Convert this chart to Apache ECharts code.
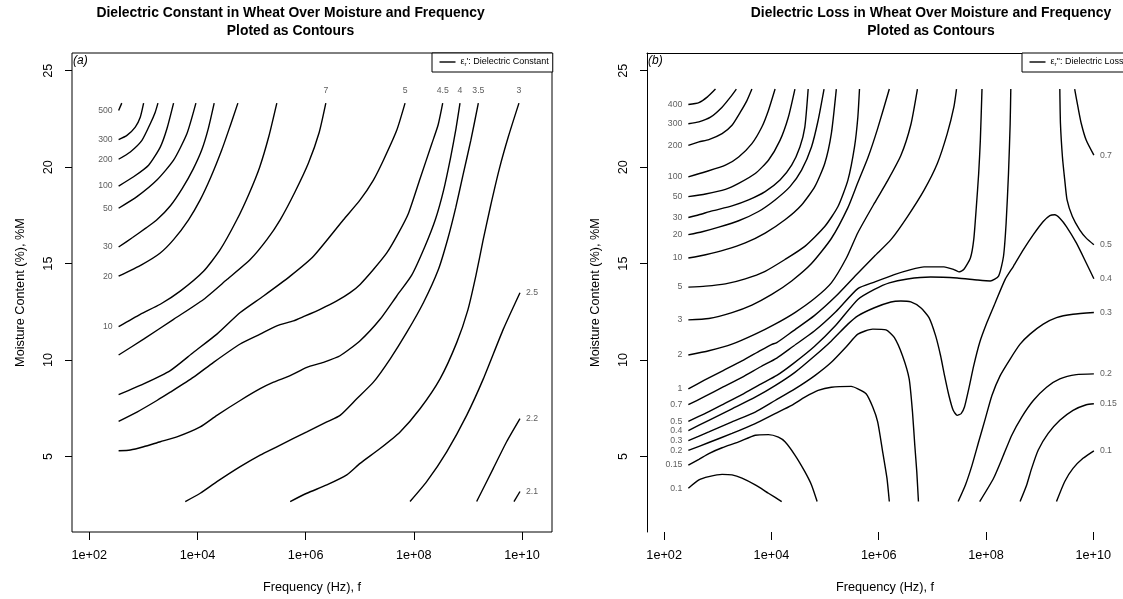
<!DOCTYPE html>
<html>
<head>
<meta charset="utf-8">
<script src="https://cdn.jsdelivr.net/npm/echarts@6/dist/echarts.min.js"></script>
<style>
  html, body { margin: 0; padding: 0; background: #fff; }
  #chart { width: 1123px; height: 599px; }
</style>
</head>
<body>
<div id="chart"></div>
<script>
// Axis ticks: frequency as powers of ten, moisture in percent
const freqTickExponents = [2, 4, 6, 8, 10];
const moistureTicks = [5, 10, 15, 20, 25];

// (a) Dielectric constant contours, each path is [log10 f (Hz), moisture %M]
const constantLevels = [500, 300, 200, 100, 50, 30, 20, 10, 7, 5, 4.5, 4, 3.5, 3, 2.5, 2.2, 2.1];
const constantPaths = [
  [[2.542,22.94],[2.600,23.32]],
  [[2.542,21.43],[2.696,21.65],[2.850,22.08],[2.942,22.59],[3.004,23.32]],
  [[2.542,20.41],[2.758,20.79],[2.973,21.39],[3.127,22.25],[3.219,22.85],[3.269,23.32]],
  [[2.542,19.02],[2.819,19.50],[3.096,20.10],[3.312,21.04],[3.435,21.99],[3.558,23.32]],
  [[2.542,17.87],[2.881,18.47],[3.250,19.33],[3.558,20.36],[3.804,21.73],[3.971,23.32]],
  [[2.542,15.86],[2.800,16.35],[3.050,16.85],[3.250,17.27],[3.500,18.00],[3.720,18.90],[3.920,19.90],[4.080,20.90],[4.200,22.00],[4.309,23.32]],
  [[2.542,14.35],[2.973,14.95],[3.312,15.55],[3.558,16.24],[3.835,17.27],[4.050,18.30],[4.250,19.50],[4.450,20.90],[4.600,22.10],[4.747,23.32]],
  [[2.542,11.73],[2.942,12.37],[3.312,12.89],[3.681,13.57],[4.112,14.60],[4.420,15.72],[4.728,17.27],[4.950,18.60],[5.150,20.00],[5.320,21.60],[5.467,23.32]],
  [[2.542,10.26],[3.004,11.08],[3.558,12.11],[4.112,13.14],[4.544,14.17],[4.975,15.21],[5.283,16.24],[5.529,17.27],[5.800,18.70],[6.050,20.20],[6.250,21.80],[6.373,23.32]],
  [[2.542,8.20],[3.004,8.76],[3.497,9.45],[3.928,10.40],[4.359,11.34],[4.790,12.46],[5.221,13.32],[5.714,14.35],[6.145,15.38],[6.699,17.27],[7.007,18.30],[7.253,19.33],[7.438,20.36],[7.684,21.91],[7.838,23.32]],
  [[2.542,6.82],[2.881,7.30],[3.250,7.90],[3.497,8.33],[3.928,9.11],[4.297,9.88],[4.790,10.83],[5.159,11.34],[5.467,11.77],[5.775,12.03],[5.960,12.25],[6.268,12.63],[6.576,13.06],[6.822,13.49],[7.007,13.92],[7.253,14.69],[7.500,15.55],[7.700,16.50],[7.900,17.60],[8.115,19.40],[8.331,21.20],[8.450,22.20],[8.534,23.32]],
  [[2.542,5.29],[2.758,5.33],[3.004,5.50],[3.312,5.76],[3.620,6.01],[4.051,6.53],[4.359,7.13],[4.790,7.90],[5.159,8.51],[5.406,8.85],[5.714,9.19],[6.022,9.62],[6.330,9.88],[6.637,10.22],[7.007,11.00],[7.376,12.11],[7.684,13.32],[7.961,14.40],[8.207,15.90],[8.400,17.30],[8.550,18.80],[8.680,20.50],[8.780,22.00],[8.854,23.32]],
  [[3.774,2.66],[4.051,3.09],[4.359,3.69],[4.790,4.47],[5.159,5.07],[5.467,5.50],[5.775,5.93],[6.022,6.27],[6.391,6.79],[6.637,7.13],[6.945,7.99],[7.253,8.85],[7.561,10.05],[7.869,11.43],[8.177,12.97],[8.454,14.69],[8.630,16.30],[8.775,17.90],[8.910,19.60],[9.055,21.40],[9.193,23.32]],
  [[5.714,2.66],[6.022,3.09],[6.391,3.52],[6.761,4.04],[7.007,4.64],[7.376,5.41],[7.746,6.27],[8.115,7.47],[8.485,9.02],[8.793,10.90],[9.000,12.60],[9.150,14.40],[9.280,16.20],[9.420,18.00],[9.580,19.90],[9.750,21.60],[9.944,23.32]],
  [[7.930,2.66],[8.238,3.69],[8.608,5.24],[8.977,7.13],[9.285,9.02],[9.655,11.60],[9.963,13.49]],
  [[9.162,2.66],[9.470,4.38],[9.716,5.76],[9.963,6.96]],
  [[9.852,2.66],[9.963,3.18]]
];
// which end of each path carries its level label
const constantLabelSides = [
  ['left'], ['left'], ['left'], ['left'], ['left'], ['left'], ['left'], ['left'],
  ['top'], ['top'], ['top'], ['top'], ['top'], ['top'],
  ['right'], ['right'], ['right']
];

// (b) Dielectric loss contours, each path is [log10 f (Hz), moisture %M]
const lossLevels = [400, 300, 200, 100, 50, 30, 20, 10, 5, 3, 2, 1, 0.7, 0.5, 0.4, 0.3, 0.2, 0.15, 0.1, 0.7, 0.5, 0.3, 0.2, 0.15, 0.1];
const lossPaths = [
  [[2.451,23.25],[2.648,23.35],[2.802,23.63],[2.957,24.05]],
  [[2.451,22.25],[2.648,22.35],[2.864,22.59],[3.080,23.11],[3.235,23.63],[3.346,24.05]],
  [[2.451,21.13],[2.648,21.31],[2.833,21.43],[3.080,21.74],[3.265,22.17],[3.420,22.85],[3.543,23.45],[3.636,24.05]],
  [[2.451,19.50],[2.772,19.76],[3.142,20.10],[3.389,20.53],[3.636,21.22],[3.821,22.08],[3.944,22.94],[4.068,24.05]],
  [[2.451,18.47],[2.772,18.61],[3.142,18.85],[3.389,19.16],[3.698,19.67],[3.944,20.36],[4.160,21.39],[4.315,22.59],[4.438,24.05]],
  [[2.451,17.39],[2.648,17.53],[2.895,17.73],[3.265,17.99],[3.574,18.30],[3.883,18.73],[4.160,19.33],[4.377,20.10],[4.531,21.05],[4.623,22.08],[4.685,24.05]],
  [[2.451,16.50],[2.710,16.65],[3.019,16.89],[3.389,17.22],[3.759,17.70],[4.068,18.30],[4.346,18.99],[4.562,19.85],[4.747,21.05],[4.870,22.42],[4.981,24.05]],
  [[2.451,15.29],[2.772,15.46],[3.142,15.72],[3.512,16.07],[3.883,16.58],[4.253,17.27],[4.562,18.04],[4.809,18.99],[4.994,20.19],[5.117,21.74],[5.210,24.05]],
  [[2.451,13.78],[2.772,13.83],[3.142,13.95],[3.512,14.21],[3.883,14.60],[4.253,15.21],[4.623,15.89],[4.994,16.92],[5.241,17.96],[5.426,19.33],[5.549,21.05],[5.611,22.59],[5.642,24.05]],
  [[2.451,12.08],[2.833,12.15],[3.265,12.46],[3.636,12.85],[4.006,13.40],[4.377,14.10],[4.747,15.00],[5.117,16.30],[5.426,17.90],[5.611,19.20],[5.800,20.50],[5.980,22.00],[6.198,24.05]],
  [[2.451,10.26],[2.833,10.48],[3.265,10.82],[3.698,11.34],[4.068,11.86],[4.438,12.46],[4.809,13.20],[5.117,14.00],[5.400,15.30],[5.611,16.60],[5.920,18.13],[6.167,19.30],[6.413,20.60],[6.599,22.20],[6.722,24.05]],
  [[2.451,8.50],[2.750,8.95],[3.100,9.45],[3.450,9.95],[3.800,10.50],[4.000,10.80],[4.100,10.90],[4.400,11.50],[4.800,12.30],[5.200,13.30],[5.611,14.50],[5.920,15.38],[6.228,16.24],[6.537,17.44],[6.846,18.81],[7.093,20.19],[7.278,21.74],[7.401,23.11],[7.451,24.05]],
  [[2.451,7.68],[2.750,8.10],[3.100,8.60],[3.450,9.10],[3.800,9.65],[4.100,10.10],[4.400,10.70],[4.800,11.50],[5.200,12.50],[5.611,13.70],[5.920,14.04],[6.290,14.43],[6.599,14.69],[6.846,14.83],[7.216,14.83],[7.401,14.69],[7.494,14.57],[7.586,14.69],[7.710,15.29],[7.772,16.24],[7.821,17.96],[7.864,19.67],[7.895,21.39],[7.926,24.05]],
  [[2.451,6.82],[2.750,7.20],[3.100,7.70],[3.450,8.20],[3.800,8.75],[4.100,9.20],[4.400,9.80],[4.800,10.70],[5.200,11.80],[5.611,13.14],[5.920,13.66],[6.198,14.00],[6.537,14.20],[6.969,14.30],[7.463,14.25],[7.833,14.15],[8.080,14.10],[8.235,14.35],[8.327,15.38],[8.376,17.10],[8.420,19.67],[8.451,22.25],[8.463,24.05]],
  [[2.451,6.34],[2.833,6.87],[3.265,7.47],[3.698,8.07],[4.068,8.67],[4.438,9.36],[4.809,10.22],[5.117,10.99],[5.426,11.86],[5.611,12.29],[5.920,12.71],[6.228,13.01],[6.413,13.06],[6.599,13.01],[6.784,12.71],[6.938,12.20],[7.062,11.25],[7.154,10.22],[7.228,9.19],[7.309,8.16],[7.389,7.39],[7.463,7.13],[7.537,7.22],[7.599,7.56],[7.679,8.50],[7.772,9.71],[7.883,10.91],[8.018,11.94],[8.173,12.97],[8.358,14.18],[8.512,14.86],[8.698,15.72],[8.883,16.50],[9.068,17.18],[9.191,17.49],[9.284,17.53],[9.377,17.35],[9.500,16.92],[9.685,16.07],[9.870,15.03],[10.012,14.21]],
  [[2.451,5.82],[2.833,6.27],[3.265,6.79],[3.698,7.30],[4.068,7.90],[4.438,8.50],[4.809,9.19],[5.117,9.88],[5.400,10.70],[5.611,11.34],[5.889,11.60],[6.136,11.56],[6.290,11.17],[6.444,10.22],[6.568,9.02],[6.630,7.30],[6.673,5.58],[6.710,4.21],[6.741,2.66]],
  [[2.451,5.31],[2.833,5.72],[3.265,6.19],[3.698,6.70],[4.068,7.22],[4.377,7.65],[4.623,8.07],[4.870,8.42],[5.117,8.59],[5.488,8.63],[5.611,8.50],[5.765,8.25],[5.889,7.56],[5.981,6.79],[6.074,5.24],[6.154,3.87],[6.198,2.66]],
  [[2.451,4.55],[2.648,4.85],[2.833,5.15],[3.080,5.45],[3.389,5.75],[3.698,6.10],[3.944,6.13],[4.130,6.00],[4.253,5.76],[4.438,5.07],[4.623,4.21],[4.747,3.52],[4.852,2.66]],
  [[2.451,3.35],[2.648,3.78],[2.833,3.95],[3.080,4.07],[3.265,4.04],[3.451,3.87],[3.698,3.52],[3.944,3.09],[4.191,2.66]],
  [[9.654,24.05],[9.716,23.11],[9.778,22.25],[9.870,21.39],[10.012,20.62]],
  [[9.377,24.05],[9.389,22.25],[9.426,20.53],[9.469,19.33],[9.512,18.30],[9.611,17.44],[9.747,16.75],[9.870,16.32],[10.012,15.98]],
  [[7.481,2.66],[7.617,3.52],[7.741,4.55],[7.864,5.76],[7.988,6.96],[8.111,8.16],[8.265,9.19],[8.451,10.05],[8.636,10.82],[8.821,11.34],[9.068,11.86],[9.315,12.20],[9.623,12.37],[10.012,12.46]],
  [[7.883,2.66],[8.142,3.87],[8.327,5.07],[8.481,6.10],[8.667,7.04],[8.883,7.90],[9.130,8.59],[9.377,9.02],[9.685,9.24],[10.012,9.28]],
  [[8.636,2.66],[8.759,3.52],[8.852,4.38],[8.975,5.33],[9.160,6.19],[9.377,6.87],[9.623,7.39],[9.870,7.68],[10.012,7.73]],
  [[9.315,2.66],[9.469,3.70],[9.623,4.38],[9.809,4.90],[10.012,5.29]]
];
const lossLabelSides = [
  ['left'], ['left'], ['left'], ['left'], ['left'], ['left'], ['left'], ['left'], ['left'],
  ['left'], ['left'], ['left'], ['left'], ['left'], ['left', 'right'], ['left'], ['left'], ['left'], ['left'],
  ['right'], ['right'], ['right'], ['right'], ['right'], ['right']
];

const FONT = '"Liberation Sans", Arial, Helvetica, sans-serif';
const X_RANGE = [1.68, 10.555];
const Y_RANGE = [1.08, 25.92];
const CONSTANT_NAME = 'Dielectric Constant';
const LOSS_NAME = 'Dielectric Loss';

function contourLines(paths, name, axisIndex) {
  return paths.map(path => ({
    type: 'line',
    name: name,
    xAxisIndex: axisIndex,
    yAxisIndex: axisIndex,
    data: path,
    symbol: 'none',
    showSymbol: false,
    smooth: 0.2,
    lineStyle: { color: '#000', width: 1.4 },
    itemStyle: { color: '#000' },
    silent: true,
    animation: false,
    z: 2
  }));
}

function contourLabels(paths, levels, sides, axisIndex) {
  const data = [];
  paths.forEach((path, i) => {
    sides[i].forEach(side => {
      const pt = side === 'left' ? path[0] : path[path.length - 1];
      data.push({
        value: pt,
        label: { position: side, distance: side === 'top' ? 8 : 5.5, formatter: String(levels[i]) }
      });
    });
  });
  return {
    type: 'scatter',
    name: 'levels' + axisIndex,
    xAxisIndex: axisIndex,
    yAxisIndex: axisIndex,
    data: data,
    symbolSize: 1,
    itemStyle: { color: 'rgba(0,0,0,0)' },
    label: { show: true, fontSize: 8.7, color: '#333', fontFamily: FONT },
    silent: true,
    animation: false,
    z: 3
  };
}

function freqAxis(gridIndex) {
  return {
    gridIndex: gridIndex,
    type: 'value',
    min: X_RANGE[0],
    max: X_RANGE[1],
    name: 'Frequency (Hz), f',
    nameLocation: 'middle',
    nameGap: 49,
    nameTextStyle: { fontSize: 12.7, color: '#000', fontFamily: FONT },
    axisLine: { show: false, onZero: false },
    axisTick: { show: true, length: 8, customValues: freqTickExponents, lineStyle: { color: '#000' } },
    axisLabel: {
      customValues: freqTickExponents,
      formatter: v => '1e+' + String(v).padStart(2, '0'),
      fontSize: 12.7, color: '#000', fontFamily: FONT, margin: 17
    },
    splitLine: { show: false }
  };
}

function moistureAxis(gridIndex, showLine) {
  return {
    gridIndex: gridIndex,
    type: 'value',
    min: Y_RANGE[0],
    max: Y_RANGE[1],
    name: 'Moisture Content (%), %M',
    nameLocation: 'middle',
    nameGap: 45,
    nameTextStyle: { fontSize: 12.7, color: '#000', fontFamily: FONT },
    axisLine: { show: showLine, onZero: false, lineStyle: { color: '#000', width: 1 } },
    axisTick: { show: true, length: 7, customValues: moistureTicks, lineStyle: { color: '#000' } },
    axisLabel: {
      customValues: moistureTicks,
      rotate: 90,
      fontSize: 12.7, color: '#000', fontFamily: FONT, margin: 17.5
    },
    splitLine: { show: false }
  };
}

function legendFor(name, left, symbol) {
  return {
    data: [{ name: name, icon: 'rect' }],
    left: left,
    top: 53,
    orient: 'horizontal',
    padding: [4.5, 4, 4.5, 7.5],
    itemWidth: 16,
    itemHeight: 1.4,
    borderColor: '#000',
    borderWidth: 1,
    backgroundColor: '#fff',
    selectedMode: false,
    formatter: () => '{e|\u03b5}{s|r}{t|' + symbol + ': ' + name + '}',
    textStyle: {
      fontFamily: FONT, color: '#000', fontSize: 9,
      rich: {
        e: { fontSize: 9, fontFamily: FONT, lineHeight: 11 },
        s: { fontSize: 6, fontFamily: FONT, verticalAlign: 'bottom', lineHeight: 11 },
        t: { fontSize: 9, fontFamily: FONT, lineHeight: 11 }
      }
    }
  };
}

const chart = echarts.init(document.getElementById('chart'), null, { renderer: 'canvas' });

const option = {
  backgroundColor: '#fff',
  animation: false,
  title: [
    {
      text: 'Dielectric Constant in Wheat Over Moisture and Frequency\nPloted as Contours',
      left: 290.5, top: 4, padding: 0, textAlign: 'center',
      textStyle: { fontSize: 13.9, fontWeight: 'bold', lineHeight: 18.3, color: '#000', fontFamily: FONT }
    },
    {
      text: 'Dielectric Loss in Wheat Over Moisture and Frequency\nPloted as Contours',
      left: 931, top: 4, padding: 0, textAlign: 'center',
      textStyle: { fontSize: 13.9, fontWeight: 'bold', lineHeight: 18.3, color: '#000', fontFamily: FONT }
    },
    {
      text: '(a)', left: 73, top: 55, padding: 0,
      textStyle: { fontSize: 12, fontStyle: 'italic', fontWeight: 'normal', color: '#000', fontFamily: FONT }
    },
    {
      text: '(b)', left: 648, top: 55, padding: 0,
      textStyle: { fontSize: 12, fontStyle: 'italic', fontWeight: 'normal', color: '#000', fontFamily: FONT }
    }
  ],
  legend: [
    legendFor(CONSTANT_NAME, 432, "'"),
    legendFor(LOSS_NAME, 1022, "''")
  ],
  grid: [
    { left: 72, top: 53, width: 480, height: 480, show: true, borderColor: '#000', borderWidth: 1, backgroundColor: 'transparent' },
    { left: 647, top: 53, width: 480, height: 480, show: false }
  ],
  xAxis: [
    freqAxis(0),
    freqAxis(1),
    {
      gridIndex: 1, type: 'value', position: 'top', min: X_RANGE[0], max: X_RANGE[1],
      axisLine: { show: true, onZero: false, lineStyle: { color: '#000', width: 1 } },
      axisTick: { show: false }, axisLabel: { show: false }, splitLine: { show: false }
    }
  ],
  yAxis: [
    moistureAxis(0, false),
    moistureAxis(1, true)
  ],
  series: [].concat(
    contourLines(constantPaths, CONSTANT_NAME, 0),
    [contourLabels(constantPaths, constantLevels, constantLabelSides, 0)],
    contourLines(lossPaths, LOSS_NAME, 1),
    [contourLabels(lossPaths, lossLevels, lossLabelSides, 1)]
  )
};

chart.setOption(option);
</script>
</body>
</html>
